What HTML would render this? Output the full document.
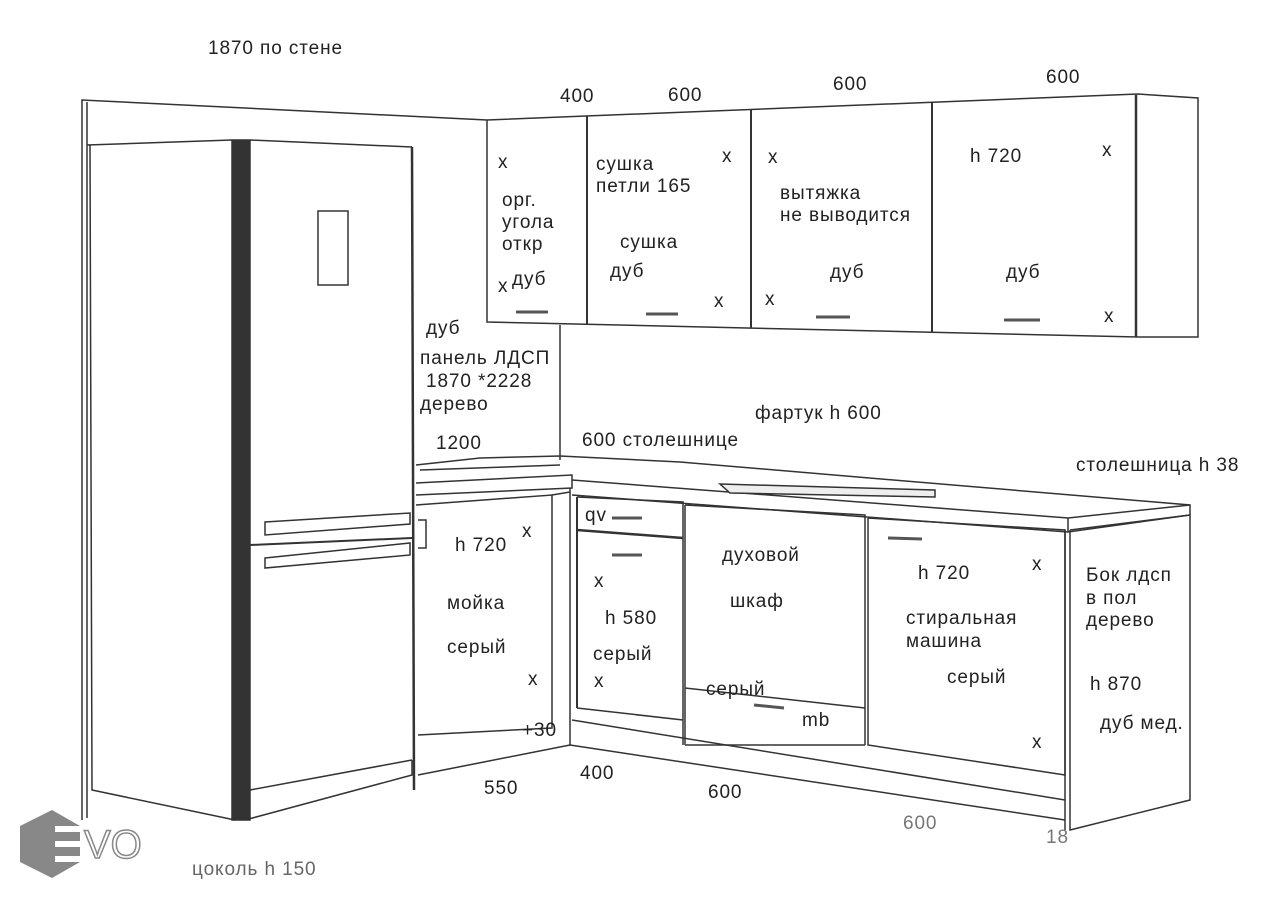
<!DOCTYPE html>
<html><head><meta charset="utf-8"><style>
html,body{margin:0;padding:0;background:#fff;}
svg{display:block;}
text{font-family:"Liberation Sans",sans-serif;font-size:19px;letter-spacing:0.9px;fill:#222;}
</style></head><body>
<svg width="1277" height="900" viewBox="0 0 1277 900" xmlns="http://www.w3.org/2000/svg">
<g fill="none" stroke="#333" stroke-width="1.5">
<polyline points="82,820 82,100 487,120"/>
<line x1="87" y1="102" x2="87" y2="818"/>
<line x1="87" y1="145" x2="232" y2="140"/>
<polyline points="90,145 92,790 235,820"/>
<rect x="232" y="140" width="18" height="680" fill="#333" stroke="#333"/>
<line x1="250" y1="140" x2="412" y2="147"/>
<line x1="412" y1="147" x2="414" y2="790" stroke-width="2.5"/>
<rect x="318" y="211" width="30" height="74"/>
<line x1="250" y1="545" x2="412" y2="538" stroke-width="2"/>
<polygon points="265,522 410,513 410,524 265,535"/>
<polygon points="265,558 410,543 410,555 265,568"/>
<line x1="250" y1="790" x2="412" y2="760"/>
<polyline points="245,820 412,775 412,760"/>
<line x1="560" y1="325" x2="560" y2="460"/>
<polyline points="487,120 1138,94 1198,98 1198,337 1138,337 487,322 487,120"/>
<line x1="587" y1="116" x2="587" y2="324" stroke-width="2"/>
<line x1="751" y1="109" x2="751" y2="328" stroke-width="2"/>
<line x1="932" y1="102" x2="932" y2="332" stroke-width="2"/>
<line x1="1136" y1="95" x2="1136" y2="337" stroke-width="2.5"/>
<g stroke-width="3" stroke="#555">
<line x1="516" y1="312" x2="548" y2="312"/>
<line x1="646" y1="314" x2="678" y2="314"/>
<line x1="816" y1="317" x2="850" y2="317"/>
<line x1="1004" y1="320" x2="1040" y2="320"/>
<line x1="612" y1="518" x2="642" y2="518"/>
<line x1="612" y1="555" x2="642" y2="555"/>
<line x1="888" y1="538" x2="922" y2="539"/>
<line x1="754" y1="705" x2="784" y2="708"/>
</g>
<polyline points="416,465 480,458 560,456 680,462 1190,505 1190,515"/>
<polyline points="416,483 572,475 572,488 416,495"/>
<line x1="420" y1="470" x2="560" y2="465"/>
<polyline points="416,505 552,495 552,728 418,735"/>
<line x1="418" y1="775" x2="570" y2="745"/>
<line x1="552" y1="495" x2="570" y2="492"/>
<line x1="570" y1="488" x2="570" y2="745"/>
<path d="M418,520 h8 v28 h-8"/>
<polyline points="572,480 1068,518 1190,505"/>
<polyline points="572,495 1068,532 1190,515"/>
<line x1="1068" y1="518" x2="1068" y2="532"/>
<polygon points="720,484 935,490 935,497 730,493" fill="#eee"/>
<polyline points="577,497 683,502 683,745"/>
<line x1="577" y1="497" x2="577" y2="708" stroke-width="2"/>
<line x1="577" y1="530" x2="683" y2="538" stroke-width="2.5"/>
<line x1="577" y1="708" x2="683" y2="720"/>
<polyline points="685,505 865,515 865,745"/>
<line x1="685" y1="688" x2="865" y2="708"/>
<line x1="685" y1="745" x2="865" y2="745"/>
<line x1="685" y1="505" x2="685" y2="745"/>
<polyline points="868,518 1065,530 1065,775 868,745 868,518"/>
<line x1="572" y1="720" x2="1065" y2="800"/>
<line x1="570" y1="745" x2="1065" y2="820"/>
<polyline points="1070,530 1190,515 1190,800 1070,830 1070,530"/>
<line x1="1065" y1="530" x2="1065" y2="830"/>
</g>
<polygon points="52,810 80,826 80,862 52,878 20,862 20,826" fill="#888"/>
<g fill="#fff"><rect x="55" y="826" width="27" height="6"/><rect x="55" y="841" width="27" height="6"/><rect x="55" y="856" width="27" height="6"/></g>
<text x="84" y="858" style="font-size:40px;letter-spacing:0;fill:#fff;stroke:#888;stroke-width:1.5">VO</text>
<text x="208" y="54">1870 по стене</text>
<text x="560" y="102">400</text>
<text x="668" y="101">600</text>
<text x="833" y="90">600</text>
<text x="1046" y="83">600</text>
<text x="498" y="168">x</text>
<text x="502" y="206">орг.</text>
<text x="502" y="228">угола</text>
<text x="502" y="250">откр</text>
<text x="498" y="292">x</text><text x="512" y="285">дуб</text>
<text x="596" y="170">сушка</text>
<text x="596" y="192">петли 165</text>
<text x="620" y="248">сушка</text>
<text x="610" y="277">дуб</text>
<text x="722" y="162">x</text>
<text x="714" y="307">x</text>
<text x="768" y="163">x</text>
<text x="765" y="305">x</text>
<text x="780" y="199">вытяжка</text>
<text x="780" y="221">не выводится</text>
<text x="830" y="278">дуб</text>
<text x="970" y="162">h 720</text>
<text x="1102" y="156">x</text>
<text x="1104" y="322">x</text>
<text x="1006" y="278">дуб</text>
<text x="426" y="334">дуб</text>
<text x="420" y="364">панель ЛДСП</text>
<text x="426" y="387">1870 *2228</text>
<text x="420" y="410">дерево</text>
<text x="436" y="449">1200</text>
<text x="582" y="446">600 столешнице</text>
<text x="755" y="419">фартук h 600</text>
<text x="1076" y="471">столешница h 38</text>
<text x="585" y="521">qv</text>
<text x="455" y="551">h 720</text>
<text x="522" y="537">x</text>
<text x="447" y="609">мойка</text>
<text x="447" y="653">серый</text>
<text x="528" y="685">x</text>
<text x="522" y="736">+30</text>
<text x="594" y="587">x</text>
<text x="605" y="624">h 580</text>
<text x="593" y="660">серый</text>
<text x="594" y="687">x</text>
<text x="722" y="561">духовой</text>
<text x="730" y="607">шкаф</text>
<text x="706" y="695">серый</text>
<text x="802" y="726">mb</text>
<text x="918" y="579">h 720</text>
<text x="1032" y="570">x</text>
<text x="906" y="624">стиральная</text>
<text x="906" y="647">машина</text>
<text x="947" y="683">серый</text>
<text x="1032" y="748">x</text>
<text x="1086" y="581">Бок лдсп</text>
<text x="1086" y="604">в пол</text>
<text x="1086" y="626">дерево</text>
<text x="1090" y="690">h 870</text>
<text x="1100" y="729">дуб мед.</text>
<text x="484" y="794">550</text>
<text x="580" y="779">400</text>
<text x="708" y="798">600</text>
<text x="903" y="829" style="fill:#777">600</text>
<text x="1046" y="843" style="fill:#777">18</text>
<text x="192" y="875" style="fill:#666">цоколь h 150</text>
</svg>
</body></html>
